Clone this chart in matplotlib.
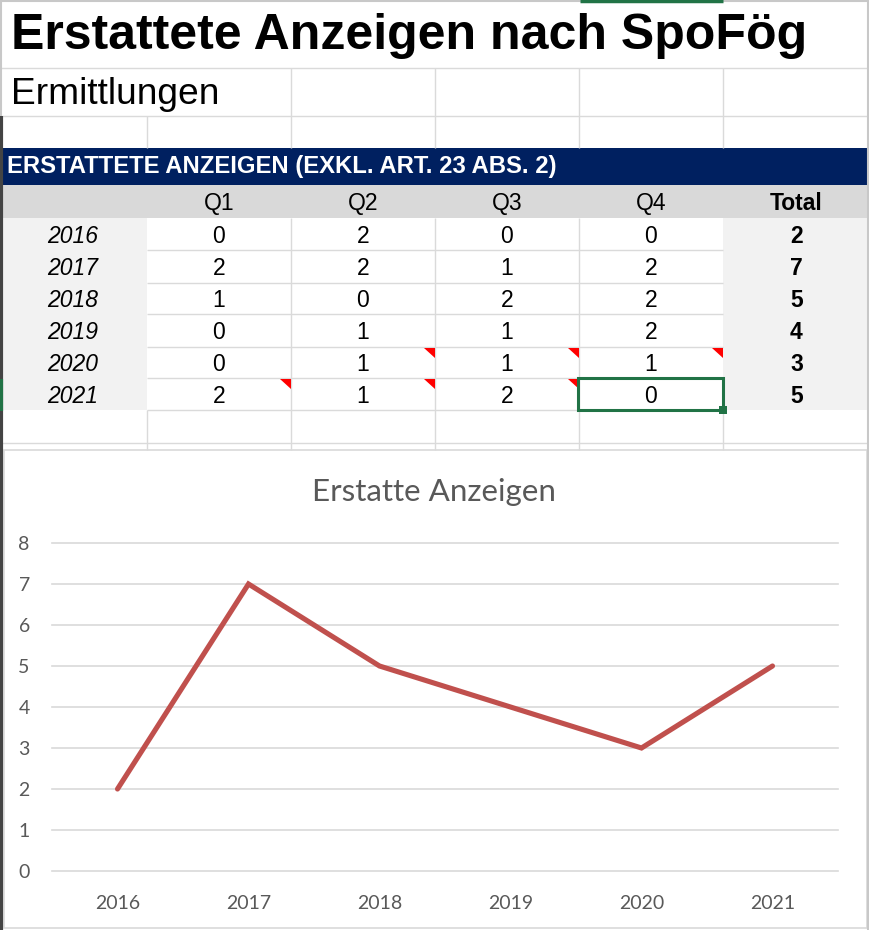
import matplotlib
matplotlib.use("Agg")
import matplotlib.pyplot as plt
from matplotlib.patches import Rectangle, Polygon

# table data
years = ['2016', '2017', '2018', '2019', '2020', '2021']
quarters = ['Q1', 'Q2', 'Q3', 'Q4']
q1 = [0, 2, 1, 0, 0, 2]
q2 = [2, 2, 0, 1, 1, 1]
q3 = [0, 1, 2, 1, 1, 2]
q4 = [0, 2, 2, 2, 1, 0]
totals = [2, 7, 5, 4, 3, 5]
# cells carrying a comment marker (row index, quarter index)
comment_cells = [(4, 1), (4, 2), (4, 3), (5, 0), (5, 1), (5, 2)]

sheet_font = ['Liberation Sans', 'DejaVu Sans']
chart_font = ['Lato', 'DejaVu Sans']
grid_col = '#DADADA'

fig = plt.figure(figsize=(8.7, 9.3), dpi=100)
bg = fig.add_axes([0, 0, 1, 1])
bg.set_xlim(0, 870)
bg.set_ylim(930, 0)
bg.axis('off')

col_x = [0, 147, 291, 435, 579, 723, 870]
row_y = [218, 250, 283, 314, 347, 378, 410, 443]

# sheet gridlines rows 1-3
bg.hlines([68, 116, 443], 0, 870, color=grid_col, lw=1)
bg.vlines(col_x[2:6], 68, 148, color=grid_col, lw=1)
bg.vlines(col_x[1], 116, 148, color=grid_col, lw=1)
bg.vlines(col_x[1:6], 410, 450, color=grid_col, lw=1)

# title rows
bg.text(11, 36, 'Erstattete Anzeigen nach SpoFög', fontsize=36, fontweight='bold',
        family=sheet_font, va='center', ha='left')
bg.text(11, 95, 'Ermittlungen', fontsize=26.7, family=sheet_font, va='center', ha='left')

# navy header bar
bg.add_patch(Rectangle((0, 148), 870, 37, color='#002060', lw=0))
bg.text(7, 167, 'ERSTATTETE ANZEIGEN (EXKL. ART. 23 ABS. 2)', fontsize=17.2,
        fontweight='bold', color='white', family=sheet_font, va='center')

# quarter header row
bg.add_patch(Rectangle((0, 185), 870, 33, color='#D9D9D9', lw=0))
for i, q in enumerate(quarters):
    cx = (col_x[i + 1] + col_x[i + 2]) / 2
    bg.text(cx, 203, q, fontsize=16.5, family=sheet_font, ha='center', va='center')
bg.text((col_x[5] + col_x[6]) / 2, 203, 'Total', fontsize=16.5, fontweight='bold',
        family=sheet_font, ha='center', va='center')

# data body
bg.add_patch(Rectangle((0, 218), 147, 192, color='#F2F2F2', lw=0))
bg.add_patch(Rectangle((723, 218), 147, 192, color='#F2F2F2', lw=0))
bg.hlines(row_y[1:-1], col_x[1], col_x[5], color=grid_col, lw=1)
bg.vlines(col_x[2:5], 218, 410, color=grid_col, lw=1)

values = [q1, q2, q3, q4]
for r, yr in enumerate(years):
    cy = (row_y[r] + row_y[r + 1]) / 2 + 2
    bg.text(73, cy, yr, fontsize=16.5, style='italic', family=sheet_font,
            ha='center', va='center')
    for c in range(4):
        cx = (col_x[c + 1] + col_x[c + 2]) / 2
        bg.text(cx, cy, str(values[c][r]), fontsize=16.5, family=sheet_font,
                ha='center', va='center')
    bg.text((col_x[5] + col_x[6]) / 2, cy, str(totals[r]), fontsize=16.5,
            fontweight='bold', family=sheet_font, ha='center', va='center')

for r, c in comment_cells:
    xr = col_x[c + 2]
    yt = row_y[r] + 1
    bg.add_patch(Polygon([(xr - 11, yt), (xr, yt), (xr, yt + 10)], color='#FF0000',
                         lw=0, zorder=4))

# selected cell
bg.add_patch(Rectangle((col_x[4] - 1, row_y[5]), 145, 32, fill=False,
                       edgecolor='#217346', lw=2.2, zorder=5))
bg.add_patch(Rectangle((col_x[5] - 4, row_y[6] - 4), 8, 8, color='#217346',
                       lw=0, zorder=6))

# window edges
bg.hlines(0.8, 0, 870, color='#C8C8C8', lw=1.5)
bg.hlines(0.8, 580, 723, color='#217346', lw=2.5)
bg.vlines(868.5, 0, 930, color='#C8C8C8', lw=1.5)
bg.vlines(1.5, 116, 930, color='#444444', lw=3)
bg.vlines(1.5, 0, 116, color='#C8C8C8', lw=1.5)
bg.vlines(1.5, 379, 411, color='#217346', lw=3)

# chart frame
bg.add_patch(Rectangle((4, 450), 863, 478, facecolor='white', edgecolor='#D9D9D9', lw=1.2))
bg.text(434, 492, 'Erstatte Anzeigen', fontsize=22.6, color='#595959',
        family=chart_font, ha='center', va='center')

ax = fig.add_axes([52 / 870, 59 / 930, 786 / 870, 328 / 930])
ax.patch.set_alpha(0)
ax.plot(range(len(years)), totals, color='#C0504D', lw=3.7,
        solid_capstyle='round', solid_joinstyle='miter', zorder=3)
ax.set_xlim(-0.5, 5.5)
ax.set_ylim(0, 8)
ax.set_yticks(range(0, 9))
ax.set_xticks(range(len(years)))
ax.set_xticklabels(years)
ax.yaxis.grid(True, color='#D9D9D9', lw=1.2)
for gl in ax.get_ygridlines():
    gl.set_clip_on(False)
ax.set_axisbelow(True)
for s in ax.spines.values():
    s.set_visible(False)
ax.tick_params(axis='both', length=0, labelsize=14, labelcolor='#595959')
ax.tick_params(axis='y', pad=16)
ax.tick_params(axis='x', pad=17)
for lab in ax.get_xticklabels() + ax.get_yticklabels():
    lab.set_family(chart_font)

fig.savefig('out.png', dpi=100)
